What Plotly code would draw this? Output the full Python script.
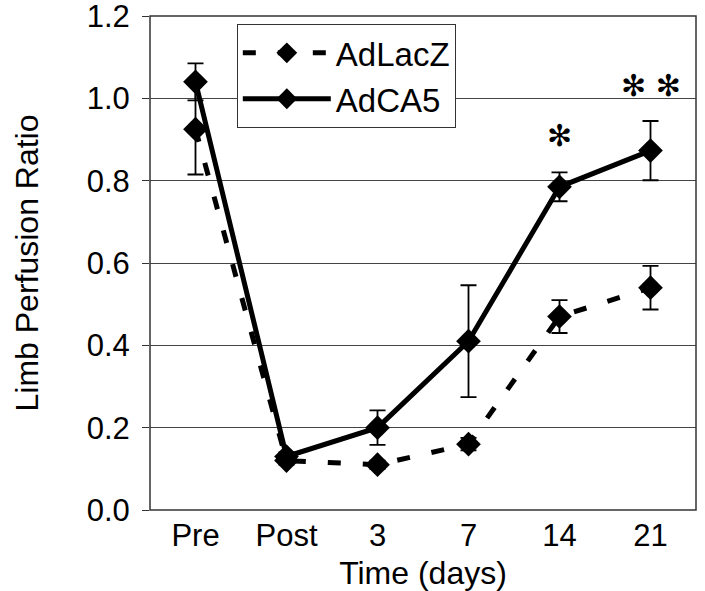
import plotly.graph_objects as go

# data
time_labels = ["Pre", "Post", "3", "7", "14", "21"]
lacz_mean = [0.925, 0.12, 0.11, 0.16, 0.47, 0.54]
lacz_err = [0.11, 0.01, 0.01, 0.015, 0.04, 0.053]
ca5_mean = [1.04, 0.13, 0.20, 0.41, 0.785, 0.873]
ca5_err = [0.045, 0.01, 0.042, 0.136, 0.035, 0.072]
y_ticks = [0.0, 0.2, 0.4, 0.6, 0.8, 1.0, 1.2]
star_labels = ["✻", "✻ ✻"]
star_at = [4, 5]          # category index (14, 21)
star_y = [0.91, 1.03]

FONT = "Liberation Sans, Arial, sans-serif"

fig = go.Figure()

fig.add_trace(go.Scatter(
    x=time_labels, y=lacz_mean, name="AdLacZ",
    mode="lines+markers",
    line=dict(color="black", width=5, dash="13px,22px"),
    marker=dict(symbol="diamond", size=19, color="black"),
    error_y=dict(type="data", array=lacz_err, color="black", thickness=1.8, width=8),
))
fig.add_trace(go.Scatter(
    x=time_labels, y=ca5_mean, name="AdCA5",
    mode="lines+markers",
    line=dict(color="black", width=5),
    marker=dict(symbol="diamond", size=19, color="black"),
    error_y=dict(type="data", array=ca5_err, color="black", thickness=1.8, width=8),
))

for lab, xc, yv in zip(star_labels, star_at, star_y):
    fig.add_annotation(x=xc, y=yv, text=lab, showarrow=False,
                       font=dict(family="DejaVu Sans", size=30, color="black"))

# plot frame
fig.add_shape(type="rect", xref="paper", yref="paper", x0=0, x1=1, y0=0, y1=1,
              line=dict(color="#333333", width=1.5), layer="above")

fig.update_layout(
    width=705, height=591,
    margin=dict(l=150, r=9, t=16, b=81, autoexpand=False),
    paper_bgcolor="white", plot_bgcolor="white",
    font=dict(family=FONT, size=31, color="black"),
    showlegend=True,
    legend=dict(x=0.159, y=0.984, xanchor="left", yanchor="top",
                bgcolor="white", bordercolor="#333333", borderwidth=1,
                font=dict(size=33), itemwidth=88, tracegroupgap=0),
)
fig.update_xaxes(
    type="category", range=[-0.5, 5.5], automargin=False,
    showline=False, showgrid=False, ticks="", tickfont=dict(size=31),
    ticklabelstandoff=4,
    title=dict(text="Time (days)", font=dict(size=32), standoff=13),
)
fig.update_yaxes(
    range=[0, 1.2], tickvals=y_ticks, tickformat=".1f", automargin=False,
    showline=False, showgrid=True, gridcolor="#444444", gridwidth=1,
    ticks="outside", ticklen=7, tickcolor="#333333",
    tickfont=dict(size=31), ticklabeloverflow="allow", ticklabelstandoff=6,
    title=dict(text="Limb Perfusion Ratio", font=dict(size=32), standoff=38),
    zeroline=False,
)

# drop the page's default body margin so the figure sits at the window corner
fig.write_html("out.html", config={"displayModeBar": False},
               post_script="document.body.style.margin='0';")
